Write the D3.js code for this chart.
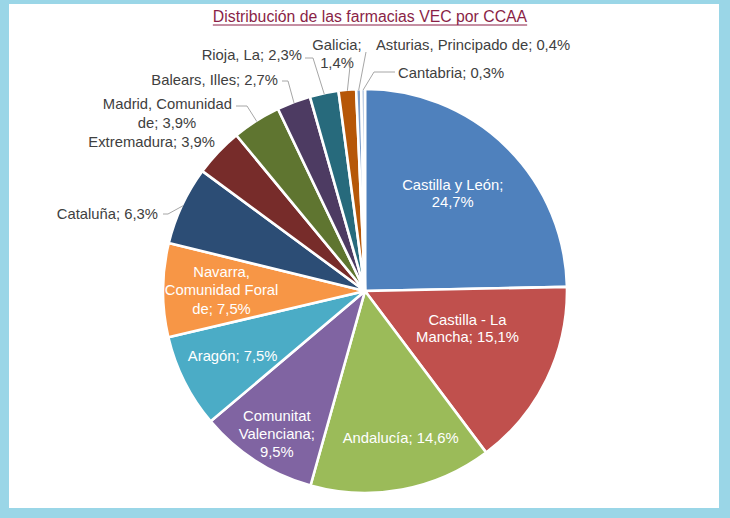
<!DOCTYPE html>
<html>
<head>
<meta charset="utf-8">
<script src="https://cdn.jsdelivr.net/npm/d3@7"></script>
<style>
  html, body { margin: 0; padding: 0; background: #9ad6e7; }
  svg { display: block; }
  text { font-family: "Liberation Sans", Arial, sans-serif; }
</style>
</head>
<body>
<svg id="chart" width="730" height="518"></svg>
<script>
// ---- data ----
const regions = [
  "Castilla y León", "Castilla - La Mancha", "Andalucía", "Comunitat Valenciana",
  "Aragón", "Navarra, Comunidad Foral de", "Cataluña", "Extremadura",
  "Madrid, Comunidad de", "Balears, Illes", "Rioja, La", "Galicia",
  "Asturias, Principado de", "Cantabria"
];
const shares = [24.7, 15.1, 14.6, 9.5, 7.5, 7.5, 6.3, 3.9, 3.9, 2.7, 2.3, 1.4, 0.4, 0.3];
const labelLines = [
  ["Castilla y León;", "24,7%"],
  ["Castilla - La", "Mancha; 15,1%"],
  ["Andalucía; 14,6%"],
  ["Comunitat", "Valenciana;", "9,5%"],
  ["Aragón; 7,5%"],
  ["Navarra,", "Comunidad Foral", "de; 7,5%"],
  ["Cataluña; 6,3%"],
  ["Extremadura; 3,9%"],
  ["Madrid, Comunidad", "de; 3,9%"],
  ["Balears, Illes; 2,7%"],
  ["Rioja, La; 2,3%"],
  ["Galicia;", "1,4%"],
  ["Asturias, Principado de; 0,4%"],
  ["Cantabria; 0,3%"]
];
const titleText = "Distribución de las farmacias VEC por CCAA";

// ---- styles / layout ----
const colors = ["#4f81bd", "#c0504d", "#9bbb59", "#8064a2", "#4bacc6", "#f79646",
  "#2c4d75", "#772c2a", "#5f7530", "#4d3b62", "#276a7c", "#b65708", "#7e9fca", "#a7bedc"];
const FS = 14.8;
const cx = 365, cy = 291, R = 202;
// inside labels: radius factor and angle shift (deg)
const insideLayout = {
  0: {rf: 0.65, da: -2.5, lh: 17},
  1: {rf: 0.54, da: -6, lh: 17},
  2: {rf: 0.75, da: -3, lh: 17},
  3: {rf: 0.83, da: -1, lh: 18},
  4: {rf: 0.73, da: 0.5, lh: 17},
  5: {rf: 0.71, da: 0, lh: 18.5}
};
// outside labels: x, y of first baseline, anchor, line height, leader elbow points
const outsideLayout = {
  6:  {x: 158, y: 219, anchor: "end", lh: 18, leader: [[163, 214], [168, 214]]},
  7:  {x: 215, y: 147, anchor: "end", lh: 18, leader: null},
  8:  {x: 167, y: 109, anchor: "middle", lh: 19, leader: [[236, 106], [247, 106]], line1Anchor: {x: 232, anchor: "end"}},
  9:  {x: 278, y: 85, anchor: "end", lh: 18, leader: [[282, 81], [288, 81]]},
  10: {x: 302, y: 60, anchor: "end", lh: 18, leader: [[305, 58], [313, 58]]},
  11: {x: 337, y: 50, anchor: "middle", lh: 18, leader: [[351, 57]]},
  12: {x: 376, y: 50, anchor: "start", lh: 18, leader: [[366, 52]]},
  13: {x: 398, y: 78, anchor: "start", lh: 18, leader: [[395, 72], [374, 72]]}
};

const svg = d3.select("#chart");

// white panel
svg.append("rect").attr("x", 9).attr("y", 4).attr("width", 710).attr("height", 504).attr("fill", "#ffffff");

// title
const title = svg.append("text")
  .attr("x", 370).attr("y", 22)
  .attr("text-anchor", "middle")
  .attr("font-size", 15.8)
  .attr("fill", "#8a1f47")
  .text(titleText);
const tw = title.node().getComputedTextLength();
svg.append("line")
  .attr("x1", 370 - tw / 2).attr("x2", 370 + tw / 2)
  .attr("y1", 25).attr("y2", 25)
  .attr("stroke", "#8a1f47").attr("stroke-width", 1);

const data = regions.map((r, i) => ({name: r, value: shares[i], idx: i}));
const pie = d3.pie().value(d => d.value).sort(null);
const arcs = pie(data);
const arc = d3.arc().innerRadius(0).outerRadius(R);

const g = svg.append("g").attr("transform", `translate(${cx},${cy})`);
g.selectAll("path.slice")
  .data(arcs)
  .join("path")
  .attr("class", "slice")
  .attr("d", arc)
  .attr("fill", (d, i) => colors[i])
  .attr("stroke", "#ffffff")
  .attr("stroke-width", 2.6)
  .attr("stroke-linejoin", "round");

// inside labels
arcs.forEach((d, i) => {
  const L = insideLayout[i];
  if (!L) return;
  const mid = (d.startAngle + d.endAngle) / 2 + L.da * Math.PI / 180;
  const px = cx + Math.sin(mid) * R * L.rf;
  const py = cy - Math.cos(mid) * R * L.rf;
  const lines = labelLines[i];
  const t = svg.append("text")
    .attr("text-anchor", "middle")
    .attr("font-size", FS)
    .attr("fill", "#ffffff");
  const y0 = py - (lines.length - 1) * L.lh / 2 + 5;
  lines.forEach((ln, k) => {
    t.append("tspan").attr("x", px).attr("y", y0 + k * L.lh).text(ln);
  });
});

// outside labels and leaders
arcs.forEach((d, i) => {
  const L = outsideLayout[i];
  if (!L) return;
  const lines = labelLines[i];
  const t = svg.append("text")
    .attr("font-size", FS)
    .attr("fill", "#404040");
  lines.forEach((ln, k) => {
    let x = L.x, anchor = L.anchor;
    if (k === 0 && L.line1Anchor) { x = L.line1Anchor.x; anchor = L.line1Anchor.anchor; }
    t.append("tspan").attr("x", x).attr("y", L.y + k * L.lh)
      .attr("text-anchor", anchor).text(ln);
  });
  if (L.leader) {
    const mid = (d.startAngle + d.endAngle) / 2;
    const ex = cx + Math.sin(mid) * (R - 1);
    const ey = cy - Math.cos(mid) * (R - 1);
    const pts = L.leader.concat([[ex, ey]]);
    svg.append("path")
      .attr("d", d3.line()(pts))
      .attr("fill", "none")
      .attr("stroke", "#a6a6a6")
      .attr("stroke-width", 1);
  }
});
</script>
</body>
</html>
